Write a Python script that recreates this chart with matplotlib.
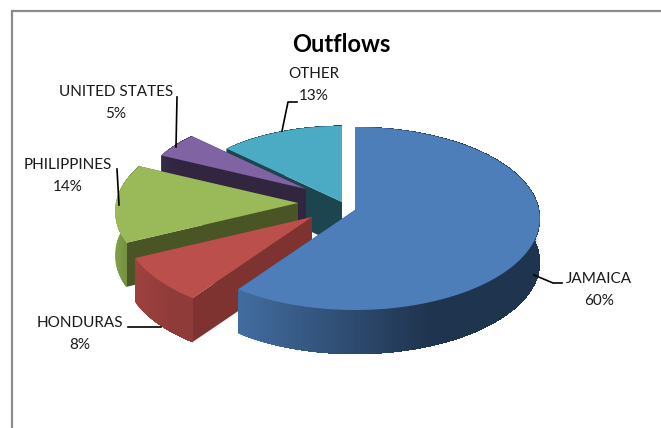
import numpy as np
import matplotlib
matplotlib.use("Agg")
import matplotlib.pyplot as plt
from matplotlib.colors import to_rgb

plt.rcParams['font.family'] = ['Lato', 'DejaVu Sans']

categories = ['JAMAICA', 'HONDURAS', 'PHILIPPINES', 'UNITED STATES', 'OTHER']
shares = [60, 8, 14, 5, 13]

top_colors = ['#4d7eba', '#bb4f4c', '#9aba59', '#7f63a2', '#4babc5']
cut_colors = ['#2c4a6e', '#7f3331', '#4a5525', '#32253f', '#1d4550']
rim_left = ['#426c9f', '#9f4240', '#82a04a', '#35284a', '#1d4550']
rim_right = ['#1f344f', '#8f3b39', '#6f8a3c', '#32253f', '#1d4550']

# pie layout, in figure pixels
centre_x, centre_y = 355, 210
rad_x, rad_y = 184, 90.7
persp = 0.093
depth = 44
# where each slice's tip sits relative to the centre, and how far it reaches
tip_shift = [(0, 0), (-43, 7), (-57, -7), (-49, -21), (-13, -8)]
reach = [1.0, 1.02, 0.99, 0.9, 0.91]


def project(ang, r, shift):
    # ang runs clockwise from 12 o'clock; nearer points come out larger
    u = r * np.sin(ang)
    v = -r * np.cos(ang)
    k = 1 - persp * v
    return shift[0] + centre_x + rad_x * u / k, shift[1] + centre_y + rad_y * v / k


def mix(c1, c2, t):
    a, b = np.array(to_rgb(c1)), np.array(to_rgb(c2))
    return tuple(a + (b - a) * t)


fig = plt.figure(figsize=(6.61, 4.28), dpi=100)
ax = fig.add_axes([0, 0, 1, 1])
ax.set_xlim(0, 661)
ax.set_ylim(428, 0)
ax.axis('off')

# chart frame, runs off the right and bottom
ax.plot([12, 12, 661], [428, 11, 11], color='#8a8a8a', lw=1.6, solid_joinstyle='miter')

edges = np.radians(np.cumsum([0] + shares) * 3.6)

# back slices first, the big front slice last
for i in [4, 3, 2, 1, 0]:
    a0, a1 = edges[i], edges[i + 1]
    ang = np.linspace(a0, a1, 240)
    xs, ys = project(ang, reach[i], tip_shift[i])
    px, py = project(0.0, 0.0, tip_shift[i])

    # walls of the two cuts
    for a in (a0, a1):
        ex, ey = project(a, reach[i], tip_shift[i])
        ax.fill([px, ex, ex, px], [py, ey, ey + depth, py + depth],
                color=cut_colors[i], lw=0, zorder=i * -10 + 50)

    # outer rim, shaded by x; each step covers everything right of it
    # so no seams show between the steps
    for x_start in np.arange(xs.min(), xs.max(), 1.0):
        keep = xs >= x_start
        seg_x, seg_y = xs[keep], ys[keep]
        if len(seg_x) < 2:
            continue
        t = (x_start - xs.min()) / max(xs.max() - xs.min(), 1)
        ax.fill(np.r_[seg_x, seg_x[::-1]], np.r_[seg_y, seg_y[::-1] + depth],
                color=mix(rim_left[i], rim_right[i], min(t * 1.6, 1)),
                lw=0, zorder=i * -10 + 51)

    ax.fill(np.r_[px, xs], np.r_[py, ys], color=top_colors[i], lw=0, zorder=i * -10 + 52)

# leader lines
leaders = [
    ([534, 553, 562], [275, 283, 283]),
    ([128, 161], [327, 327]),
    ([117, 119], [169, 205]),
    ([177, 176], [97, 147]),
    ([282, 288, 297], [131, 102, 102]),
]
for lx, ly in leaders:
    ax.plot(lx, ly, color='black', lw=1.2, zorder=60)

ax.text(341, 44, 'Outflows', ha='center', va='center', fontsize=17, fontweight='bold', color='black')

label_pos = [(599, 290), (80, 334), (68, 176), (116, 103), (314, 85)]
for name, share, (lx, ly) in zip(categories, shares, label_pos):
    ax.text(lx, ly, f'{name}\n{share}%', ha='center', va='center', fontsize=11,
            color='#1a1a1a', linespacing=1.75, zorder=61)

fig.savefig('out.png', dpi=100)
